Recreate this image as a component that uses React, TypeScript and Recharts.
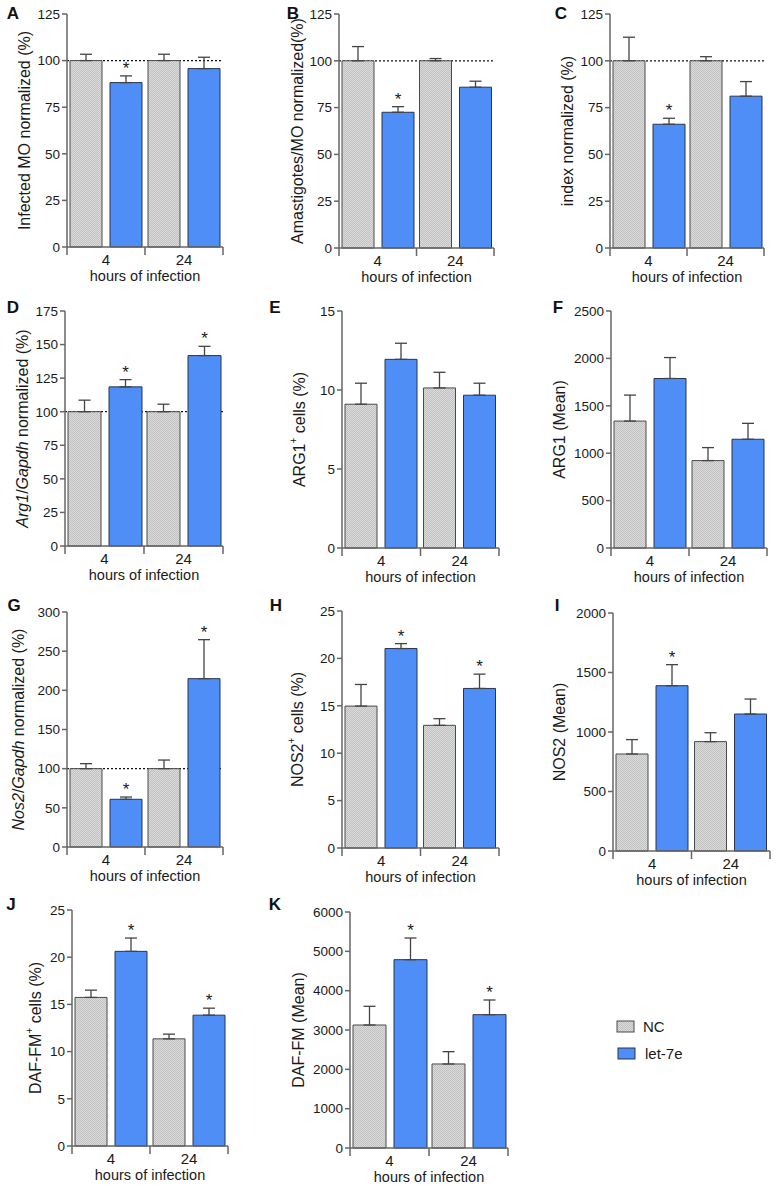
import React from "react";
import { BarChart, Bar, XAxis, YAxis, ErrorBar, CartesianGrid } from "recharts";

const categories = ["4", "24"];
const groups = ["NC", "let-7e"];
const xTitle = "hours of infection";

// A  infected macrophages
const infectedNC = [100, 100];
const infectedNCErr = [3.4, 3.4];
const infectedLet = [88.2, 95.7];
const infectedLetErr = [3.6, 6.1];
const infectedStar = [true, false];
// B  amastigotes per macrophage
const amastNC = [100, 100];
const amastNCErr = [7.6, 1.2];
const amastLet = [72.5, 85.9];
const amastLetErr = [3.0, 3.2];
const amastStar = [true, false];
// C  infection index
const indexNC = [100, 100];
const indexNCErr = [12.6, 2.2];
const indexLet = [66.1, 81.1];
const indexLetErr = [3.2, 7.8];
const indexStar = [true, false];
// D  Arg1 mRNA
const arg1NC = [100, 100];
const arg1NCErr = [8.6, 5.6];
const arg1Let = [118.5, 141.8];
const arg1LetErr = [5.4, 6.9];
const arg1Star = [true, true];
// E  ARG1+ cells
const arg1CellsNC = [9.1, 10.13];
const arg1CellsNCErr = [1.33, 0.99];
const arg1CellsLet = [11.94, 9.67];
const arg1CellsLetErr = [1.02, 0.76];
const arg1CellsStar = [false, false];
// F  ARG1 mean
const arg1MeanNC = [1339, 922];
const arg1MeanNCErr = [274, 137];
const arg1MeanLet = [1788, 1147];
const arg1MeanLetErr = [221, 168];
const arg1MeanStar = [false, false];
// G  Nos2 mRNA
const nos2NC = [100, 100];
const nos2NCErr = [6.4, 11];
const nos2Let = [60.9, 214.9];
const nos2LetErr = [2.9, 49.8];
const nos2Star = [true, true];
// H  NOS2+ cells
const nos2CellsNC = [14.97, 12.94];
const nos2CellsNCErr = [2.28, 0.7];
const nos2CellsLet = [21.04, 16.83];
const nos2CellsLetErr = [0.52, 1.51];
const nos2CellsStar = [true, true];
// I  NOS2 mean
const nos2MeanNC = [815, 919];
const nos2MeanNCErr = [121, 75];
const nos2MeanLet = [1389, 1151];
const nos2MeanLetErr = [177, 126];
const nos2MeanStar = [true, false];
// J  DAF-FM+ cells
const dafCellsNC = [15.74, 11.35];
const dafCellsNCErr = [0.77, 0.5];
const dafCellsLet = [20.62, 13.86];
const dafCellsLetErr = [1.41, 0.74];
const dafCellsStar = [true, true];
// K  DAF-FM mean
const dafMeanNC = [3127, 2136];
const dafMeanNCErr = [475, 313];
const dafMeanLet = [4788, 3390];
const dafMeanLetErr = [551, 373];
const dafMeanStar = [true, true];

const ticks125 = [0, 25, 50, 75, 100, 125];
const ticks175 = [0, 25, 50, 75, 100, 125, 150, 175];
const ticks15 = [0, 5, 10, 15];
const ticks2500 = [0, 500, 1000, 1500, 2000, 2500];
const ticks300 = [0, 50, 100, 150, 200, 250, 300];
const ticks25 = [0, 5, 10, 15, 20, 25];
const ticks2000 = [0, 500, 1000, 1500, 2000];
const ticks6000 = [0, 1000, 2000, 3000, 4000, 5000, 6000];
const baseline = [100];

const FONT = '"Liberation Sans", Arial, Helvetica, sans-serif';
const AXIS = "#666";
const BLUE = "#4f8ef6";
const ML = 72;
const MT = 10;
const MR = 8;
const XH = 42;

type Part = { t: string; i?: boolean; sup?: boolean };

const panels = [
  { id: "A", nc: infectedNC, ncErr: infectedNCErr, lt: infectedLet, ltErr: infectedLetErr, star: infectedStar, ticks: ticks125, ref: true,
    title: [{ t: "Infected MO normalized (%)" }], ax: 67, top: 14, zero: 247, right: 223, off: 43, lx: 13, ly: 13 },
  { id: "B", nc: amastNC, ncErr: amastNCErr, lt: amastLet, ltErr: amastLetErr, star: amastStar, ticks: ticks125, ref: true,
    title: [{ t: "Amastigotes/MO normalized(%)" }], ax: 339, top: 14, zero: 248, right: 494, off: 42, lx: 293, ly: 13 },
  { id: "C", nc: indexNC, ncErr: indexNCErr, lt: indexLet, ltErr: indexLetErr, star: indexStar, ticks: ticks125, ref: true,
    title: [{ t: "index normalized (%)" }], ax: 610, top: 14, zero: 248, right: 764, off: 43, lx: 561, ly: 13 },
  { id: "D", nc: arg1NC, ncErr: arg1NCErr, lt: arg1Let, ltErr: arg1LetErr, star: arg1Star, ticks: ticks175, ref: true,
    title: [{ t: "Arg1", i: true }, { t: "/" }, { t: "Gapdh", i: true }, { t: " normalized (%)" }], ax: 65, top: 311, zero: 546, right: 223, off: 43, lx: 13, ly: 307 },
  { id: "E", nc: arg1CellsNC, ncErr: arg1CellsNCErr, lt: arg1CellsLet, ltErr: arg1CellsLetErr, star: arg1CellsStar, ticks: ticks15, ref: false,
    title: [{ t: "ARG1" }, { t: "+", sup: true }, { t: " cells (%)" }], ax: 342, top: 311, zero: 548, right: 499, off: 43, lx: 275, ly: 307 },
  { id: "F", nc: arg1MeanNC, ncErr: arg1MeanNCErr, lt: arg1MeanLet, ltErr: arg1MeanLetErr, star: arg1MeanStar, ticks: ticks2500, ref: false,
    title: [{ t: "ARG1 (Mean)" }], ax: 611, top: 311, zero: 548, right: 767, off: 52, lx: 558, ly: 307 },
  { id: "G", nc: nos2NC, ncErr: nos2NCErr, lt: nos2Let, ltErr: nos2LetErr, star: nos2Star, ticks: ticks300, ref: true,
    title: [{ t: "Nos2", i: true }, { t: "/" }, { t: "Gapdh", i: true }, { t: " normalized (%)" }], ax: 67, top: 612, zero: 847, right: 223, off: 49, lx: 14, ly: 605 },
  { id: "H", nc: nos2CellsNC, ncErr: nos2CellsNCErr, lt: nos2CellsLet, ltErr: nos2CellsLetErr, star: nos2CellsStar, ticks: ticks25, ref: false,
    title: [{ t: "NOS2" }, { t: "+", sup: true }, { t: " cells (%)" }], ax: 342, top: 611, zero: 848, right: 499, off: 45, lx: 276, ly: 605 },
  { id: "I", nc: nos2MeanNC, ncErr: nos2MeanNCErr, lt: nos2MeanLet, ltErr: nos2MeanLetErr, star: nos2MeanStar, ticks: ticks2000, ref: false,
    title: [{ t: "NOS2 (Mean)" }], ax: 613, top: 613, zero: 851, right: 770, off: 54, lx: 557, ly: 605 },
  { id: "J", nc: dafCellsNC, ncErr: dafCellsNCErr, lt: dafCellsLet, ltErr: dafCellsLetErr, star: dafCellsStar, ticks: ticks25, ref: false,
    title: [{ t: "DAF-FM" }, { t: "+", sup: true }, { t: " cells (%)" }], ax: 72, top: 910, zero: 1146, right: 228, off: 37, lx: 11, ly: 904 },
  { id: "K", nc: dafMeanNC, ncErr: dafMeanNCErr, lt: dafMeanLet, ltErr: dafMeanLetErr, star: dafMeanStar, ticks: ticks6000, ref: false,
    title: [{ t: "DAF-FM (Mean)" }], ax: 350, top: 912, zero: 1148, right: 508, off: 52, lx: 275, ly: 904 },
];

function Checker({ id }: { id: string }) {
  return (
    <pattern id={id} width={2} height={2} patternUnits="userSpaceOnUse">
      <rect width={2} height={2} fill="#dadada" />
      <rect width={1} height={1} fill="#c2c2c2" />
      <rect x={1} y={1} width={1} height={1} fill="#c2c2c2" />
    </pattern>
  );
}

function XTick(props: any) {
  const { x, y, payload, index, band, n } = props;
  const l = x - band / 2;
  const r = x + band / 2;
  return (
    <g>
      <line x1={l} x2={l} y1={y} y2={y + 8} stroke={AXIS} strokeWidth={1.5} />
      {index === n - 1 && <line x1={r} x2={r} y1={y} y2={y + 8} stroke={AXIS} strokeWidth={1.5} />}
      <text x={x} y={y + 12} textAnchor="middle" dominantBaseline="central" fontSize={15} fill="#1a1a1a" fontFamily={FONT}>
        {payload.value}
      </text>
    </g>
  );
}

function XLabel(props: any) {
  const vb = props.viewBox;
  if (!vb) return null;
  return (
    <text x={vb.x + vb.width / 2} y={vb.y + 29} textAnchor="middle" dominantBaseline="central" fontSize={14.5} fill="#1a1a1a" fontFamily={FONT}>
      {xTitle}
    </text>
  );
}

function YLabel(props: any) {
  const { viewBox, parts, off } = props;
  if (!viewBox) return null;
  const cx = viewBox.x + viewBox.width - off;
  const cy = viewBox.y + viewBox.height / 2;
  let wasSup = false;
  const spans = (parts as Part[]).map((p, k) => {
    let dy = 0;
    if (p.sup) dy = -6;
    else if (wasSup) dy = 6;
    wasSup = !!p.sup;
    return (
      <tspan key={k} dy={dy} fontSize={p.sup ? 10 : 16} fontStyle={p.i ? "italic" : "normal"}>
        {p.t}
      </tspan>
    );
  });
  return (
    <text x={cx} y={cy} transform={`rotate(-90 ${cx} ${cy})`} textAnchor="middle" dominantBaseline="central" fill="#1a1a1a" fontFamily={FONT}>
      {spans}
    </text>
  );
}

function Star(props: any) {
  const { index, errs, stars, value } = props;
  if (!stars[index]) return null;
  const vb = props.viewBox || props;
  const errPx = (errs[index] / value) * vb.height;
  const cx = vb.x + vb.width / 2;
  return (
    <text x={cx} y={vb.y - errPx - 2} textAnchor="middle" fontSize={17} fill="#1a1a1a" fontFamily={FONT}>
      *
    </text>
  );
}

function Panel({ p }: { p: any }) {
  const plotW = p.right - p.ax;
  const plotH = p.zero - p.top;
  const w = ML + plotW + MR;
  const h = MT + plotH + XH;
  const band = plotW / categories.length;
  const data = categories.map((c, i) => ({
    cat: c,
    nc: p.nc[i],
    ncErr: [0, p.ncErr[i]],
    let7e: p.lt[i],
    letErr: [0, p.ltErr[i]],
  }));
  const pid = `chk${p.id}`;
  return (
    <div style={{ position: "absolute", left: p.ax - ML, top: p.top - MT, width: w, height: h }}>
      <BarChart width={w} height={h} data={data} margin={{ top: MT, right: MR, bottom: 0, left: 0 }} barCategoryGap={3} barGap={8}>
        <defs>
          <Checker id={pid} />
        </defs>
        {p.ref && (
          <CartesianGrid vertical={false} horizontalValues={baseline} stroke="#111" strokeWidth={1.2} strokeDasharray="2 2" />
        )}
        <XAxis
          dataKey="cat"
          height={XH}
          interval={0}
          tickLine={false}
          tickSize={0}
          tickMargin={0}
          axisLine={{ stroke: AXIS, strokeWidth: 1.5 }}
          tick={(t: any) => <XTick {...t} band={band} n={categories.length} />}
          label={(l: any) => <XLabel {...l} />}
        />
        <YAxis
          type="number"
          domain={[0, p.ticks[p.ticks.length - 1]]}
          ticks={p.ticks}
          interval={0}
          width={ML}
          tickSize={5}
          tickMargin={2}
          axisLine={{ stroke: AXIS, strokeWidth: 1.5 }}
          tickLine={{ stroke: AXIS, strokeWidth: 1.5 }}
          tick={{ fontSize: 13.5, fill: "#1a1a1a", fontFamily: FONT }}
          label={(l: any) => <YLabel {...l} parts={p.title} off={p.off} />}
        />
        <Bar dataKey="nc" name={groups[0]} fill={`url(#${pid})`} stroke="#4a4a4a" strokeWidth={1} isAnimationActive={false}>
          <ErrorBar dataKey="ncErr" direction="y" width={6} stroke="#444" strokeWidth={1.3} />
        </Bar>
        <Bar
          dataKey="let7e"
          name={groups[1]}
          fill={BLUE}
          stroke="#2b3550"
          strokeWidth={1}
          isAnimationActive={false}
          label={(l: any) => <Star {...l} errs={p.ltErr} stars={p.star} />}
        >
          <ErrorBar dataKey="letErr" direction="y" width={6} stroke="#444" strokeWidth={1.3} />
        </Bar>
      </BarChart>
    </div>
  );
}

export default function App() {
  return (
    <div style={{ position: "absolute", left: 0, top: 0, width: 776, height: 1186, background: "#fff", fontFamily: FONT }}>
      <svg width={776} height={1186} style={{ position: "absolute", left: 0, top: 0 }}>
        <defs>
          <Checker id="chkLegend" />
        </defs>
        {panels.map((p) => (
          <text key={p.id} x={p.lx} y={p.ly} textAnchor="middle" dominantBaseline="central" fontSize={17} fontWeight="bold" fill="#111" fontFamily={FONT}>
            {p.id}
          </text>
        ))}
        <rect x={617} y={1021} width={17} height={11} fill="url(#chkLegend)" stroke="#4a4a4a" />
        <text x={643} y={1026.5} dominantBaseline="central" fontSize={15} fill="#1a1a1a" fontFamily={FONT}>{groups[0]}</text>
        <rect x={618} y={1048} width={17} height={11} fill={BLUE} stroke="#2b3550" />
        <text x={645} y={1053.5} dominantBaseline="central" fontSize={15} fill="#1a1a1a" fontFamily={FONT}>{groups[1]}</text>
      </svg>
      {panels.map((p) => (
        <Panel key={p.id} p={p} />
      ))}
    </div>
  );
}
